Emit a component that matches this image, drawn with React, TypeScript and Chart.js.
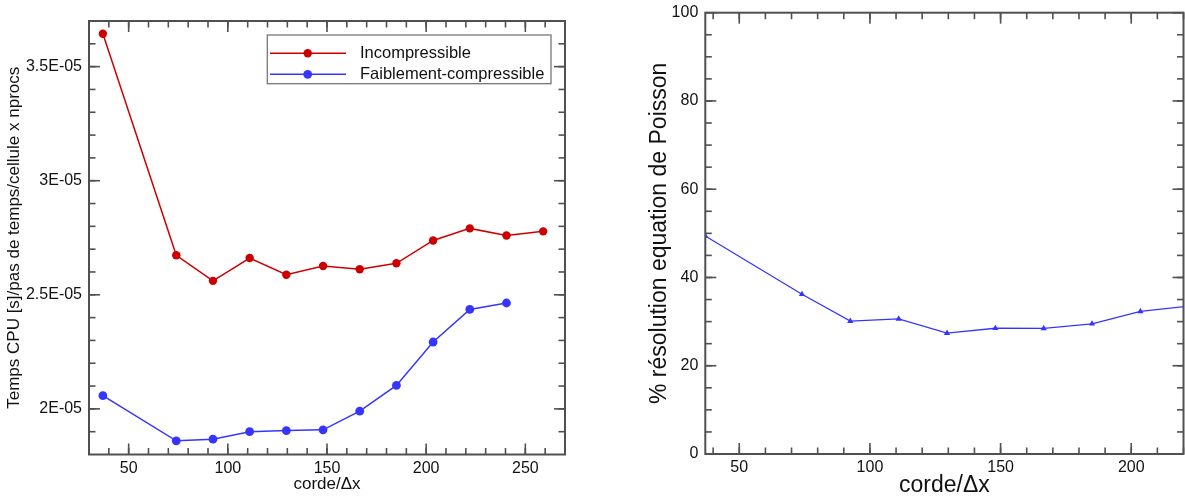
import React, { useEffect, useRef } from 'react';
import { Chart, registerables } from 'chart.js';

Chart.register(...registerables);

// ---- data ----
const cordeValues = [37, 74, 92.5, 111, 129.5, 148, 166.5, 185, 203.5, 222, 240.5, 259];
const incompressible = [3.644e-5, 2.673e-5, 2.561e-5, 2.661e-5, 2.588e-5, 2.626e-5, 2.612e-5, 2.638e-5, 2.738e-5, 2.791e-5, 2.76e-5, 2.778e-5];
const faiblementCompressible = [2.058e-5, 1.86e-5, 1.867e-5, 1.9e-5, 1.905e-5, 1.908e-5, 1.99e-5, 2.103e-5, 2.293e-5, 2.436e-5, 2.464e-5];
const poissonPercent = [49.4, 36.2, 30.1, 30.6, 27.4, 28.5, 28.45, 29.5, 32.3, 33.5];

const leftXTicks = [50, 100, 150, 200, 250];
const leftYTicks = [2e-5, 2.5e-5, 3e-5, 3.5e-5];
const leftYTickLabels = ['2E-05', '2.5E-05', '3E-05', '3.5E-05'];
const rightXTicks = [50, 100, 150, 200];
const rightYTicks = [0, 20, 40, 60, 80, 100];

const FONT = "'Liberation Sans', Arial, Helvetica, sans-serif";
const AXIS_COLOR = '#505050';
const TEXT_COLOR = '#111111';
const RED = '#cc0000';
const BLUE = '#3535ff';

function range(start: number, stop: number, step: number, scale = 1): number[] {
  const out: number[] = [];
  for (let k = Math.round(start / step); k * step <= stop + 1e-9; k++) out.push(k * step * scale);
  return out;
}

type FrameCfg = { xMajor: number[]; xMinor: number[]; yMajor: number[]; yMinor: number[] };

function framePlugin(cfg: FrameCfg) {
  return {
    id: 'frameTicks',
    afterDraw(chart: any) {
      const { ctx, chartArea: a, scales } = chart;
      const xs = scales.x;
      const ys = scales.y;
      const MAJ = 11;
      const MIN = 6.5;
      ctx.save();
      ctx.strokeStyle = AXIS_COLOR;
      ctx.lineWidth = 1.6;
      const seg = (x1: number, y1: number, x2: number, y2: number) => {
        ctx.beginPath();
        ctx.moveTo(x1, y1);
        ctx.lineTo(x2, y2);
        ctx.stroke();
      };
      const tx = (v: number, len: number) => {
        const p = xs.getPixelForValue(v);
        if (p < a.left - 0.5 || p > a.right + 0.5) return;
        seg(p, a.bottom, p, a.bottom - len);
        seg(p, a.top, p, a.top + len);
      };
      const ty = (v: number, len: number) => {
        const p = ys.getPixelForValue(v);
        if (p < a.top - 0.5 || p > a.bottom + 0.5) return;
        seg(a.left, p, a.left + len, p);
        seg(a.right, p, a.right - len, p);
      };
      cfg.xMinor.forEach((v) => tx(v, MIN));
      cfg.xMajor.forEach((v) => tx(v, MAJ));
      cfg.yMinor.forEach((v) => ty(v, MIN));
      cfg.yMajor.forEach((v) => ty(v, MAJ));
      ctx.lineWidth = 2;
      ctx.strokeRect(a.left, a.top, a.right - a.left, a.bottom - a.top);
      ctx.restore();
    },
  };
}

const legendPlugin = {
  id: 'boxLegend',
  afterDraw(chart: any) {
    const { ctx, chartArea: a } = chart;
    const left = a.left + 178.3;
    const top = a.top + 14;
    const w = 283.7;
    const h = 48.7;
    ctx.save();
    ctx.fillStyle = '#ffffff';
    ctx.fillRect(left, top, w, h);
    ctx.strokeStyle = '#777777';
    ctx.lineWidth = 1.3;
    ctx.strokeRect(left, top, w, h);
    chart.data.datasets.forEach((ds: any, i: number) => {
      const y = top + 18.3 + i * 21;
      ctx.strokeStyle = ds.borderColor;
      ctx.lineWidth = 1.5;
      ctx.beginPath();
      ctx.moveTo(left + 2.7, y);
      ctx.lineTo(left + 78.7, y);
      ctx.stroke();
      ctx.fillStyle = ds.borderColor;
      ctx.beginPath();
      ctx.arc(left + 40.4, y, ds.pointRadius, 0, Math.PI * 2);
      ctx.fill();
      ctx.fillStyle = TEXT_COLOR;
      ctx.font = `16.5px ${FONT}`;
      ctx.textBaseline = 'middle';
      ctx.textAlign = 'left';
      ctx.fillText(ds.label, left + 92.7, y + 0.5);
    });
    ctx.restore();
  },
};

function fixedTicks(values: number[]) {
  return (scale: any) => {
    scale.ticks = values.map((v) => ({ value: v }));
  };
}

function fitX(height: number) {
  return (s: any) => {
    s.height = height;
    s.paddingLeft = 0;
    s.paddingRight = 0;
    s.paddingTop = 0;
    s.paddingBottom = 0;
  };
}

function fitY(width: number) {
  return (s: any) => {
    s.width = width;
    s.paddingLeft = 0;
    s.paddingRight = 0;
    s.paddingTop = 0;
    s.paddingBottom = 0;
  };
}

function App() {
  const leftRef = useRef<HTMLCanvasElement | null>(null);
  const rightRef = useRef<HTMLCanvasElement | null>(null);

  useEffect(() => {
    const tickFont = { family: FONT, size: 16 };

    const left = new Chart(leftRef.current as HTMLCanvasElement, {
      type: 'line',
      data: {
        datasets: [
          {
            label: 'Incompressible',
            data: incompressible.map((y, i) => ({ x: cordeValues[i], y })),
            borderColor: RED,
            backgroundColor: RED,
            borderWidth: 1.5,
            pointRadius: 4.2,
            pointBorderWidth: 0,
            pointBackgroundColor: RED,
            tension: 0,
          },
          {
            label: 'Faiblement-compressible',
            data: faiblementCompressible.map((y, i) => ({ x: cordeValues[i], y })),
            borderColor: BLUE,
            backgroundColor: BLUE,
            borderWidth: 1.5,
            pointRadius: 4.4,
            pointBorderWidth: 0,
            pointBackgroundColor: BLUE,
            tension: 0,
          },
        ],
      },
      options: {
        animation: false,
        responsive: false,
        layout: { autoPadding: false, padding: { left: 0, top: 21, right: 35, bottom: 0 } },
        plugins: { legend: { display: false }, tooltip: { enabled: false } },
        scales: {
          x: {
            type: 'linear',
            min: 30,
            max: 270,
            afterBuildTicks: fixedTicks(leftXTicks),
            afterFit: fitX(43.5),
            grid: { display: false, drawTicks: false },
            border: { display: false },
            ticks: { font: tickFont, color: TEXT_COLOR, padding: 4, autoSkip: false, maxRotation: 0 },
            title: {
              display: true,
              text: 'corde/Δx',
              color: TEXT_COLOR,
              font: { family: FONT, size: 17, lineHeight: 1 },
              padding: { top: 0, bottom: 5.4 },
            },
          },
          y: {
            type: 'linear',
            min: 1.8e-5,
            max: 3.7e-5,
            afterBuildTicks: fixedTicks(leftYTicks),
            afterFit: fitY(89),
            grid: { display: false, drawTicks: false },
            border: { display: false },
            ticks: {
              font: tickFont,
              color: TEXT_COLOR,
              padding: 7,
              autoSkip: false,
              callback: (_v: any, i: number) => leftYTickLabels[i],
            },
            title: {
              display: true,
              text: 'Temps CPU [s]/pas de temps/cellule x nprocs',
              color: TEXT_COLOR,
              font: { family: FONT, size: 17, lineHeight: 1 },
              padding: { top: 6.3, bottom: 0 },
            },
          },
        },
      },
      plugins: [
        framePlugin({
          xMajor: leftXTicks,
          xMinor: range(40, 260, 10),
          yMajor: leftYTicks,
          yMinor: range(19, 36, 1, 1e-6),
        }),
        legendPlugin,
      ],
    } as any);

    const right = new Chart(rightRef.current as HTMLCanvasElement, {
      type: 'line',
      data: {
        datasets: [
          {
            label: '% résolution equation de Poisson',
            data: poissonPercent.map((y, i) => ({ x: cordeValues[i], y })),
            borderColor: BLUE,
            backgroundColor: BLUE,
            borderWidth: 1.3,
            pointStyle: 'triangle',
            pointRadius: 3.6,
            pointBorderWidth: 0,
            pointBackgroundColor: BLUE,
            tension: 0,
          },
        ],
      },
      options: {
        animation: false,
        responsive: false,
        layout: { autoPadding: false, padding: { left: 0, top: 12.7, right: 1.5, bottom: 0 } },
        plugins: { legend: { display: false }, tooltip: { enabled: false } },
        scales: {
          x: {
            type: 'linear',
            min: 37,
            max: 220,
            afterBuildTicks: fixedTicks(rightXTicks),
            afterFit: fitX(44),
            grid: { display: false, drawTicks: false },
            border: { display: false },
            ticks: { font: tickFont, color: TEXT_COLOR, padding: 4, autoSkip: false, maxRotation: 0 },
            title: {
              display: true,
              text: 'corde/Δx',
              color: TEXT_COLOR,
              font: { family: FONT, size: 23, lineHeight: 1 },
              padding: { top: 0, bottom: 0.5 },
            },
          },
          y: {
            type: 'linear',
            min: 0,
            max: 100,
            afterBuildTicks: fixedTicks(rightYTicks),
            afterFit: fitY(105.3),
            grid: { display: false, drawTicks: false },
            border: { display: false },
            ticks: { font: tickFont, color: TEXT_COLOR, padding: 7, autoSkip: false },
            title: {
              display: true,
              text: '% résolution equation de Poisson',
              color: TEXT_COLOR,
              font: { family: FONT, size: 23, lineHeight: 1 },
              padding: { top: 48, bottom: 0 },
            },
          },
        },
      },
      plugins: [
        framePlugin({
          xMajor: rightXTicks,
          xMinor: range(40, 220, 10),
          yMajor: rightYTicks,
          yMinor: range(5, 95, 5),
        }),
      ],
    } as any);

    return () => {
      left.destroy();
      right.destroy();
    };
  }, []);

  return (
    <div style={{ position: 'absolute', left: 0, top: 0, width: 1185, height: 498, background: '#ffffff' }}>
      <canvas ref={leftRef} width={600} height={498} style={{ position: 'absolute', left: 0, top: 0 }} />
      <canvas ref={rightRef} width={585} height={498} style={{ position: 'absolute', left: 600, top: 0 }} />
    </div>
  );
}

export default App;
